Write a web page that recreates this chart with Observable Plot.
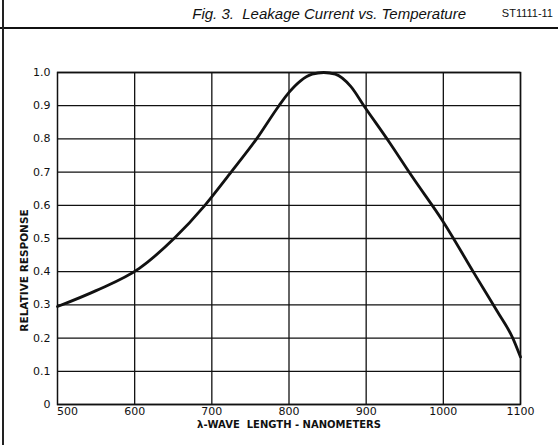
<!DOCTYPE html>
<html>
<head>
<meta charset="utf-8">
<script src="https://cdn.jsdelivr.net/npm/d3@7"></script>
<script src="https://cdn.jsdelivr.net/npm/@observablehq/plot@0.6"></script>
<style>
  html, body { margin: 0; padding: 0; background: #fff; }
  #page { position: relative; width: 558px; height: 445px; overflow: hidden; background: #fff; }
  #title { position: absolute; left: 0; top: 5px; width: 466px; text-align: right;
           font: italic 15px "Liberation Sans", Arial, sans-serif; color: #111; }
  #code { position: absolute; right: 5px; top: 7px;
          font: 11px "Liberation Sans", Arial, sans-serif; color: #111; }
  #rule { position: absolute; left: 0; top: 27px; width: 558px; height: 2px; background: #111; }
  #lborder { position: absolute; left: 2px; top: 0; width: 1.5px; height: 445px; background: #222; }
  #chart { position: absolute; left: 0; top: 28px; }
</style>
</head>
<body>
<div id="page">
  <div id="title">Fig. 3.&nbsp; Leakage Current vs. Temperature</div>
  <div id="code">ST1111-11</div>
  <div id="rule"></div>
  <div id="lborder"></div>
  <div id="chart"></div>
</div>
<script>
const wavelengths = [500, 550, 606, 651, 691, 725, 758, 787, 800, 815, 830, 845, 860, 880, 897, 930, 960, 1000, 1040, 1070, 1090, 1100];
const response    = [0.295, 0.343, 0.41, 0.5, 0.6, 0.7, 0.8, 0.9, 0.94, 0.975, 0.995, 1.0, 0.995, 0.958, 0.9, 0.79, 0.685, 0.55, 0.395, 0.28, 0.2, 0.143];
const xTicks = [600, 700, 800, 900, 1000, 1100];
const xFirstTick = [500];
const yTicks = [0, 0.1, 0.2, 0.3, 0.4, 0.5, 0.6, 0.7, 0.8, 0.9, 1.0];
const xLabel = "λ-WAVE  LENGTH - NANOMETERS";
const yLabel = "RELATIVE RESPONSE";

const data = wavelengths.map((w, i) => ({w, r: response[i]}));
const yFmt = d => d === 0 ? "0" : d.toFixed(1);

const chart = Plot.plot({
  width: 558,
  height: 417,
  marginLeft: 57,
  marginRight: 38,
  marginTop: 44,
  marginBottom: 41,
  style: {fontFamily: "DejaVu Sans, sans-serif", color: "#111", background: "transparent"},
  x: {domain: [500, 1100]},
  y: {domain: [0, 1]},
  marks: [
    Plot.gridX(xTicks, {stroke: "#111", strokeOpacity: 1, strokeWidth: 1.3}),
    Plot.gridY(yTicks, {stroke: "#111", strokeOpacity: 1, strokeWidth: 1.3}),
    Plot.frame({stroke: "#111", strokeWidth: 1.5}),
    Plot.axisY(yTicks, {tickSize: 0, tickPadding: 7, tickFormat: yFmt, fontSize: 11, label: null}),
    Plot.axisX(xTicks, {tickSize: 0, tickPadding: 3, fontSize: 11, label: null, tickFormat: d => String(d), style: "letter-spacing: 1.2px"}),
    Plot.axisX(xFirstTick, {tickSize: 0, tickPadding: 3, fontSize: 11, label: null, dx: 10, tickFormat: d => String(d), style: "letter-spacing: 1.2px"}),
    Plot.line(data, {x: "w", y: "r", curve: "monotone-x", stroke: "#111", strokeWidth: 2.8}),
    Plot.text([xLabel], {frameAnchor: "bottom", lineAnchor: "middle", textAnchor: "middle", dy: 20, fontSize: 10, fontWeight: "bold", fill: "#111", style: "letter-spacing: 2.4px"}),
    Plot.text([yLabel], {frameAnchor: "left", textAnchor: "middle", lineAnchor: "middle", dx: -33, dy: 32, rotate: -90, fontSize: 10.5, fontWeight: "bold", fill: "#111", style: "letter-spacing: 1px"})
  ]
});
document.getElementById("chart").appendChild(chart);
</script>
</body>
</html>
